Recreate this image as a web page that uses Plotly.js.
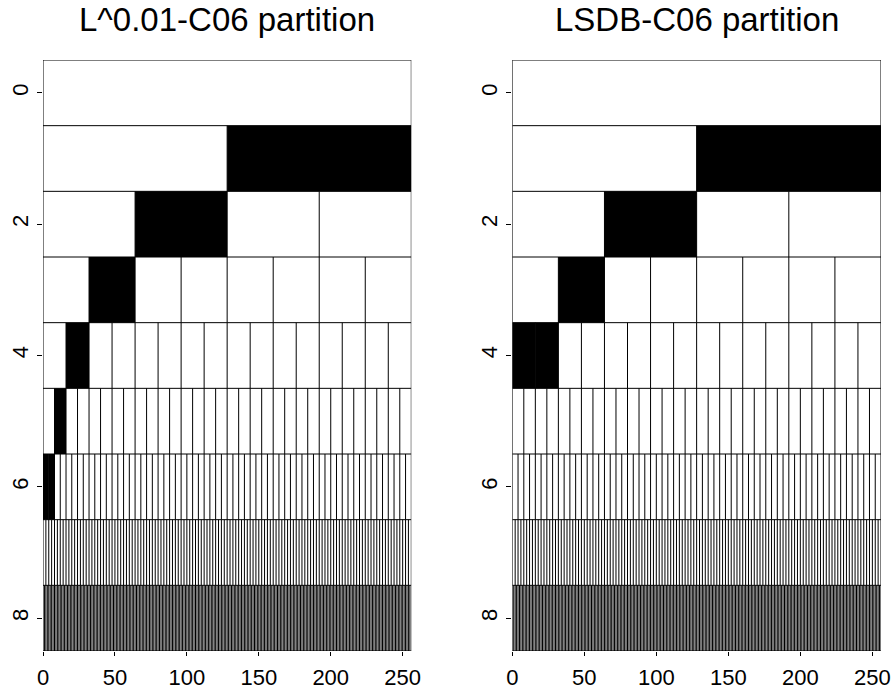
<!DOCTYPE html>
<html>
<head>
<meta charset="utf-8">
<script src="https://cdn.plot.ly/plotly-3.0.1.min.js"></script>
<style>html,body{margin:0;padding:0;background:#fff;}</style>
</head>
<body>
<div id="chart" style="width:892px;height:692px;"></div>
<script>
// ---- data ----
const signalLength = 256;
const levels = [0, 1, 2, 3, 4, 5, 6, 7, 8];
const panelTitles = ["L^0.01-C06 partition", "LSDB-C06 partition"];
// selected basis cells: level and index of cell within level
const leftSelLevel = [1, 2, 3, 4, 5, 6, 6];
const leftSelIndex = [1, 1, 1, 1, 1, 0, 1];
const rightSelLevel = [1, 2, 3, 4, 4];
const rightSelIndex = [1, 1, 1, 0, 1];
const xTickVals = [0, 50, 100, 150, 200, 250];
const yTickVals = [0, 2, 4, 6, 8];

// ---- build traces ----
function gridTrace(xa, ya) {
  const xs = [], ys = [];
  levels.forEach(j => {
    const n = Math.pow(2, j), w = signalLength / n;
    for (let k = 0; k <= n; k++) {
      xs.push(k * w, k * w, null);
      ys.push(j - 0.5, j + 0.5, null);
    }
    xs.push(0, signalLength, null);
    ys.push(j - 0.5, j - 0.5, null);
  });
  const last = levels[levels.length - 1];
  xs.push(0, signalLength, null);
  ys.push(last + 0.5, last + 0.5, null);
  return {type: 'scatter', mode: 'lines', x: xs, y: ys, xaxis: xa, yaxis: ya,
          line: {color: '#000', width: 1}, hoverinfo: 'skip', showlegend: false};
}
function selTrace(lv, idx, xa, ya) {
  const base = [], wid = [];
  lv.forEach((j, i) => {
    const w = signalLength / Math.pow(2, j);
    base.push(idx[i] * w);
    wid.push(w);
  });
  return {type: 'bar', orientation: 'h', y: lv, x: wid, base: base, width: 1,
          xaxis: xa, yaxis: ya, marker: {color: '#000', line: {width: 0}},
          hoverinfo: 'skip', showlegend: false};
}

const traces = [
  selTrace(leftSelLevel, leftSelIndex, 'x', 'y'),
  selTrace(rightSelLevel, rightSelIndex, 'x2', 'y2'),
  gridTrace('x', 'y'),
  gridTrace('x2', 'y2')
];

const fam = 'Liberation Sans, Arial, sans-serif';
const font = {family: fam, color: '#000', size: 22};
const tickFont = {family: fam, color: '#000', size: 22};
const xAxisBase = {range: [0, signalLength], tickvals: xTickVals, ticks: 'outside',
  ticklen: 4, tickcolor: '#000', showgrid: false, zeroline: false, showline: false,
  tickfont: tickFont, ticklabelstandoff: 3, fixedrange: true};
const yAxisBase = {range: [8.5, -0.5], tickvals: yTickVals, ticks: 'outside',
  ticklen: 5, tickcolor: '#000', showgrid: false, zeroline: false, showline: false,
  tickangle: -90, tickfont: tickFont, fixedrange: true};

const layout = {
  width: 892, height: 692,
  margin: {l: 43, r: 11, t: 60, b: 41},
  paper_bgcolor: '#fff', plot_bgcolor: '#fff',
  font: font, barmode: 'overlay', showlegend: false,
  xaxis: Object.assign({}, xAxisBase, {domain: [0, 0.4395], anchor: 'y'}),
  yaxis: Object.assign({}, yAxisBase, {domain: [0, 1], anchor: 'x'}),
  xaxis2: Object.assign({}, xAxisBase, {domain: [0.560, 1], anchor: 'y2'}),
  yaxis2: Object.assign({}, yAxisBase, {domain: [0, 1], anchor: 'x2'}),
  annotations: [
    {text: panelTitles[0], xref: 'paper', yref: 'paper', x: 0.4395 / 2, y: 1,
     xanchor: 'center', yanchor: 'top', yshift: 60, borderpad: 0, showarrow: false,
     font: {family: fam, color: '#000', size: 33}},
    {text: panelTitles[1], xref: 'paper', yref: 'paper', x: (0.560 + 1) / 2, y: 1,
     xanchor: 'center', yanchor: 'top', yshift: 60, borderpad: 0, showarrow: false,
     font: {family: fam, color: '#000', size: 33}}
  ]
};

Plotly.newPlot('chart', traces, layout, {staticPlot: true, displayModeBar: false});
</script>
</body>
</html>
